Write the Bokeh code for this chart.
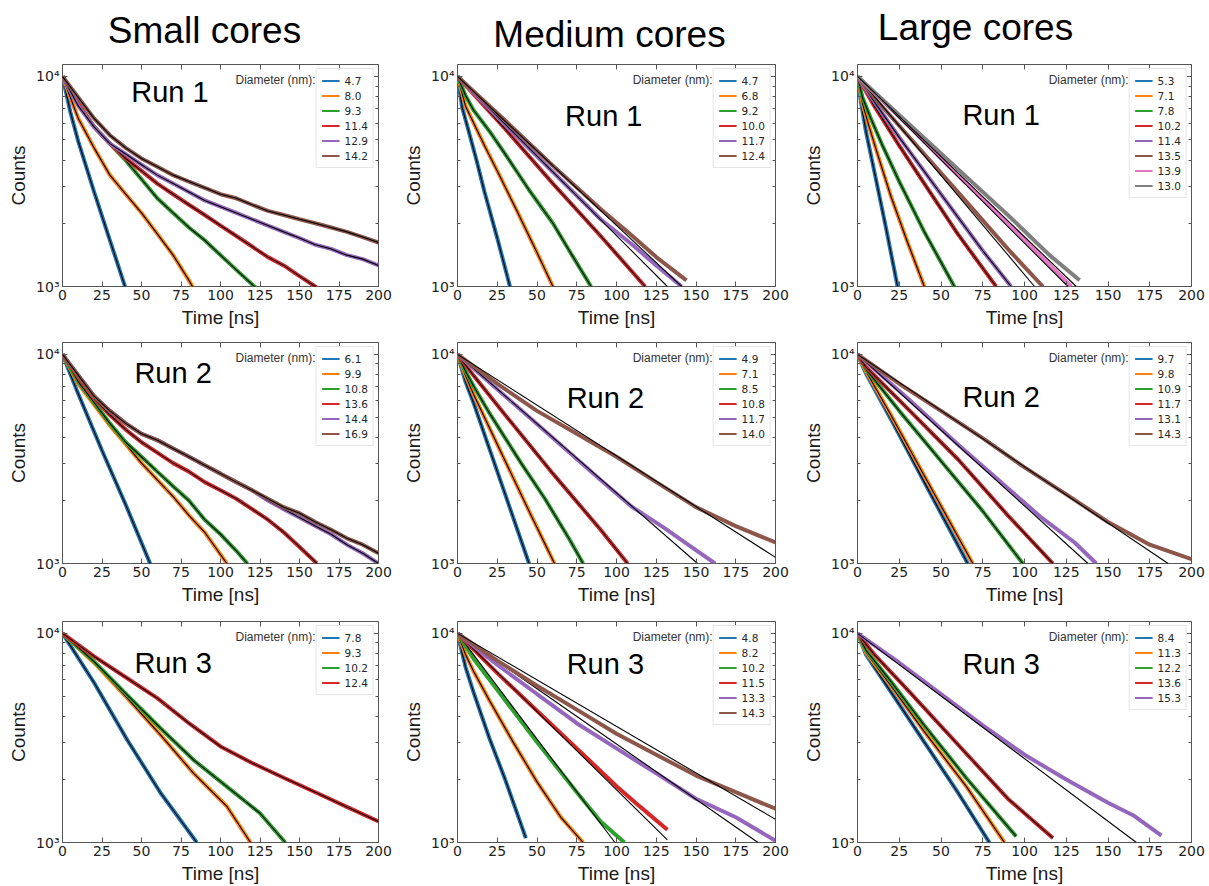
import math

from bokeh.embed import file_html
from bokeh.layouts import column, row
from bokeh.models import (CustomLabelingPolicy, FixedTicker, Label, Legend,
                          LegendItem, LinearAxis, LogAxis, Range1d)
from bokeh.plotting import figure
from bokeh.resources import INLINE

# ---------------------------------------------------------------- labels
COLUMN_TITLES = ["Small cores", "Medium cores", "Large cores"]
RUN_LABELS = ["Run 1", "Run 2", "Run 3"]
X_LABEL = "Time [ns]"
Y_LABEL = "Counts"
LEGEND_TITLE = "Diameter (nm):"
X_TICKS = [0, 25, 50, 75, 100, 125, 150, 175, 200]
Y_TICKS = [1000, 10000]
Y_MINOR_TICKS = [2000, 3000, 4000, 5000, 6000, 7000, 8000, 9000]
Y_TICK_LABELS = {1000: "10³", 10000: "10⁴"}
PALETTE = ["#1f77b4", "#ff7f0e", "#2ca02c", "#d62728",
           "#9467bd", "#8c564b", "#e377c2", "#7f7f7f"]

# ------------------------------------------------ small cores, run 1
small_run1_diam = ["4.7", "8.0", "9.3", "11.4", "12.9", "14.2"]
small_run1_time = [
    [0, 5, 10, 20, 30, 40],
    [0, 5, 10, 15, 20, 30, 40, 50, 60, 70, 80, 83],
    [0, 10, 20, 30, 40, 50, 60, 70, 80, 90, 100, 110, 123],
    [0, 10, 20, 30, 40, 50, 60, 70, 80, 90, 100, 110, 120, 130, 140, 150, 160, 163],
    [0, 10, 20, 30, 40, 50, 60, 70, 80, 90, 100, 110, 120, 130, 140, 150, 160, 170, 180, 190, 200],
    [0, 10, 20, 30, 40, 50, 60, 70, 80, 90, 100, 110, 120, 130, 140, 150, 160, 170, 180, 190, 200],
]
small_run1_counts = [
    [10000, 6760, 4900, 2820, 1660, 977],
    [10000, 7940, 6310, 5370, 4570, 3390, 2750, 2240, 1780, 1410, 1070, 977],
    [10000, 7410, 5750, 4790, 3980, 3240, 2630, 2240, 1910, 1660, 1410, 1200, 977],
    [10000, 7410, 5750, 4790, 4070, 3550, 3090, 2750, 2450, 2190, 1950, 1740, 1550, 1380, 1260, 1120, 1000, 955],
    [10000, 7240, 5750, 4790, 4270, 3800, 3390, 3090, 2820, 2570, 2400, 2240, 2090, 1950, 1820, 1700, 1580, 1510, 1410, 1350, 1260],
    [10000, 7940, 6310, 5250, 4570, 4070, 3720, 3390, 3160, 2950, 2750, 2630, 2450, 2290, 2190, 2090, 2000, 1910, 1820, 1720, 1620],
]
# None: the fitted curve runs through the measured points
small_run1_fit_time = [None, None, None, None, None, None]
small_run1_fit_counts = [None, None, None, None, None, None]

# ------------------------------------------------ small cores, run 2
small_run2_diam = ["6.1", "9.9", "10.8", "13.6", "14.4", "16.9"]
small_run2_time = [
    [0, 10, 25, 40, 56],
    [0, 10, 20, 30, 40, 50, 60, 70, 80, 90, 104],
    [0, 10, 20, 30, 40, 50, 60, 70, 80, 90, 100, 110, 117],
    [0, 10, 20, 30, 40, 50, 60, 70, 80, 90, 100, 110, 120, 130, 140, 150, 161],
    [0, 10, 20, 30, 40, 50, 60, 70, 80, 90, 100, 110, 120, 130, 140, 150, 160, 170, 180, 190, 200],
    [0, 10, 20, 30, 40, 50, 60, 70, 80, 90, 100, 110, 120, 130, 140, 150, 160, 170, 180, 190, 200],
]
small_run2_counts = [
    [10000, 6460, 3470, 1910, 977],
    [10000, 7240, 5750, 4570, 3720, 3020, 2510, 2090, 1700, 1410, 1000],
    [10000, 7410, 5890, 4680, 3800, 3240, 2750, 2340, 2000, 1620, 1380, 1150, 1000],
    [10000, 7760, 6170, 5130, 4370, 3800, 3390, 3020, 2750, 2450, 2240, 2040, 1820, 1620, 1410, 1200, 1000],
    [10000, 7940, 6310, 5370, 4680, 4170, 3890, 3550, 3240, 2950, 2690, 2450, 2240, 2000, 1820, 1660, 1510, 1380, 1230, 1120, 1000],
    [10000, 7940, 6310, 5370, 4680, 4170, 3890, 3550, 3240, 2950, 2690, 2450, 2240, 2040, 1860, 1740, 1580, 1450, 1320, 1230, 1120],
]
small_run2_fit_time = [None, None, None, None, None, None]
small_run2_fit_counts = [None, None, None, None, None, None]

# ------------------------------------------------ small cores, run 3
small_run3_diam = ["7.8", "9.3", "10.2", "12.4"]
small_run3_time = [
    [0, 20, 41, 62, 85],
    [0, 20, 41, 62, 83, 104, 119],
    [0, 20, 41, 62, 83, 104, 125, 141],
    [0, 20, 40, 60, 80, 100, 120, 140, 160, 180, 200],
]
small_run3_counts = [
    [10000, 5810, 3090, 1730, 1000],
    [10000, 7240, 4900, 3270, 2140, 1490, 1000],
    [10000, 7330, 5070, 3520, 2480, 1850, 1380, 1000],
    [10000, 7760, 6170, 4900, 3720, 2880, 2400, 2040, 1740, 1480, 1260],
]
small_run3_fit_time = [None, None, None, None]
small_run3_fit_counts = [None, None, None, None]

# ------------------------------------------------ medium cores, run 1
medium_run1_diam = ["4.7", "6.8", "9.2", "10.0", "11.7", "12.4"]
medium_run1_time = [
    [0, 3, 7, 12, 17, 25, 33],
    [0, 5, 10, 17, 25, 38, 50, 60],
    [0, 5, 10, 20, 30, 45, 60, 72, 84],
    [0, 30, 60, 90, 118],
    [0, 30, 60, 90, 110, 125, 141],
    [0, 30, 60, 90, 110, 125, 144],
]
medium_run1_counts = [
    [10000, 7080, 5500, 3980, 2820, 1700, 1000],
    [10000, 7240, 6030, 4680, 3550, 2240, 1450, 1000],
    [10000, 8130, 6920, 5500, 4270, 2880, 2000, 1410, 1000],
    [10000, 5620, 3090, 1740, 1000],
    [10000, 5890, 3510, 2090, 1580, 1260, 1000],
    [10000, 6170, 3760, 2340, 1740, 1380, 1070],
]
medium_run1_fit_time = [None, None, None, None, [0, 132], [0, 141]]
medium_run1_fit_counts = [None, None, None, None, [10000, 1000], [10000, 1000]]

# ------------------------------------------------ medium cores, run 2
medium_run2_diam = ["4.9", "7.1", "8.5", "10.8", "11.7", "14.0"]
medium_run2_time = [
    [0, 5, 10, 20, 30, 45],
    [0, 5, 10, 20, 30, 45, 61],
    [0, 5, 10, 20, 30, 40, 55, 70, 79],
    [0, 10, 30, 60, 90, 107],
    [0, 30, 60, 90, 110, 130, 145, 162],
    [0, 25, 50, 75, 100, 125, 150, 175, 200],
]
medium_run2_counts = [
    [10000, 7410, 5890, 3550, 2140, 1000],
    [10000, 7940, 6460, 4470, 3090, 1780, 1000],
    [10000, 8320, 7080, 5250, 3980, 3020, 2040, 1320, 1000],
    [10000, 7940, 5130, 2690, 1450, 1000],
    [10000, 6310, 3980, 2510, 1860, 1480, 1230, 1000],
    [10000, 7240, 5370, 4170, 3240, 2450, 1860, 1510, 1260],
]
medium_run2_fit_time = [None, None, None, None, [0, 151], [0, 200]]
medium_run2_fit_counts = [None, None, None, None, [10000, 1000], [10000, 1070]]

# ------------------------------------------------ medium cores, run 3
medium_run3_diam = ["4.8", "8.2", "10.2", "11.5", "13.3", "14.3"]
medium_run3_time = [
    [0, 5, 10, 20, 30, 43],
    [0, 5, 10, 20, 35, 50, 65, 79],
    [0, 10, 25, 50, 75, 90, 105],
    [0, 25, 50, 75, 100, 115, 132],
    [0, 25, 50, 75, 100, 125, 150, 175, 200],
    [0, 25, 50, 75, 100, 125, 150, 175, 200],
]
medium_run3_counts = [
    [10000, 6920, 5250, 3160, 2000, 1050],
    [10000, 7940, 6610, 4790, 3020, 1950, 1320, 1000],
    [10000, 7590, 5370, 3020, 1740, 1260, 1000],
    [10000, 6460, 4270, 2820, 1860, 1480, 1150],
    [10000, 7080, 5130, 3720, 2820, 2140, 1620, 1320, 1020],
    [10000, 7410, 5620, 4320, 3310, 2630, 2090, 1740, 1450],
]
medium_run3_fit_time = [None, None, [0, 99], [0, 132], [0, 189], [0, 200]]
medium_run3_fit_counts = [None, None, [10000, 1000], [10000, 1030], [10000, 1000], [10000, 1290]]

# ------------------------------------------------ large cores, run 1
large_run1_diam = ["5.3", "7.1", "7.8", "10.2", "11.4", "13.5", "13.9", "13.0"]
large_run1_time = [
    [0, 2, 5, 10, 17, 24],
    [0, 3, 7, 12, 20, 30, 40],
    [0, 3, 8, 15, 25, 40, 58],
    [0, 5, 10, 25, 40, 60, 83],
    [0, 10, 25, 50, 75, 92],
    [0, 10, 30, 60, 90, 111],
    [0, 30, 60, 90, 128],
    [0, 30, 60, 90, 115, 133],
]
large_run1_counts = [
    [10000, 7590, 5500, 3550, 1910, 1000],
    [10000, 7410, 5750, 4270, 2690, 1620, 1000],
    [10000, 7940, 6310, 4680, 3160, 1820, 1000],
    [10000, 8510, 7240, 4680, 3090, 1780, 1000],
    [10000, 7590, 5130, 2750, 1480, 1000],
    [10000, 7940, 5250, 2820, 1510, 1000],
    [10000, 5890, 3390, 2000, 1000],
    [10000, 6030, 3630, 2190, 1410, 1070],
]
large_run1_fit_time = [None, None, None, None, None, [0, 106], [0, 126], [0, 131]]
large_run1_fit_counts = [None, None, None, None, None, [10000, 1000], [10000, 1000], [10000, 1000]]

# ------------------------------------------------ large cores, run 2
large_run2_diam = ["9.7", "9.8", "10.9", "11.7", "13.1", "14.3"]
large_run2_time = [
    [0, 5, 20, 40, 66],
    [0, 5, 20, 40, 69],
    [0, 5, 25, 50, 75, 99],
    [0, 5, 30, 60, 90, 117],
    [0, 30, 60, 90, 110, 130, 143],
    [0, 25, 50, 75, 100, 125, 150, 175, 200],
]
large_run2_counts = [
    [10000, 8130, 4900, 2450, 1000],
    [10000, 8320, 5130, 2630, 1000],
    [10000, 8510, 5370, 3090, 1780, 1000],
    [10000, 8710, 5500, 3160, 1700, 1000],
    [10000, 6170, 3720, 2290, 1660, 1260, 1000],
    [10000, 7240, 5370, 3980, 2880, 2140, 1580, 1230, 1050],
]
large_run2_fit_time = [None, None, None, None, [0, 138], [0, 186]]
large_run2_fit_counts = [None, None, None, None, [10000, 1000], [10000, 1000]]

# ------------------------------------------------ large cores, run 3
large_run3_diam = ["8.4", "11.3", "12.2", "13.6", "15.3"]
large_run3_time = [
    [0, 5, 20, 40, 60, 79],
    [0, 5, 20, 40, 65, 88],
    [0, 5, 20, 40, 65, 95],
    [0, 10, 30, 60, 90, 117],
    [0, 25, 50, 75, 100, 125, 150, 165, 182],
]
large_run3_counts = [
    [10000, 7940, 5250, 3020, 1740, 1000],
    [10000, 8130, 5620, 3390, 1860, 1000],
    [10000, 8320, 5890, 3630, 2040, 1070],
    [10000, 7940, 5370, 2950, 1620, 1050],
    [10000, 7240, 5130, 3630, 2630, 2000, 1550, 1350, 1080],
]
large_run3_fit_time = [None, None, None, None, [0, 167]]
large_run3_fit_counts = [None, None, None, None, [10000, 1000]]

# ---------------------------------------------------------------- layout
PAGE_W = 1209
HEADER_H = 60
TITLE_X = [204, 609, 975]
TITLE_BASELINE = [30, 34, 27]
COL_W = [400, 400, 409]
COL_LEFT = [62, 56, 56]
COL_FRAME_W = [316, 319, 335]
ROW_H = [270, 278, 278]
ROW_TOP = [4, 12, 13]
ROW_FRAME_H = [222, 221, 222]
X_MAX = 200
Y_MIN, Y_MAX = 1000, 11400
# centre of the "Run N" caption in each panel, [row][column] as (time, counts)
RUN_LABEL_POS = [
    [(68, 8400), (92, 6460), (86, 6550)],
    [(70, 8110), (93, 6170), (86, 6250)],
    [(70, 7190), (93, 7130), (86, 7130)],
]
FRAME_COLOR = "#555555"
TEXT_COLOR = "#1a1a1a"
SANS = "Liberation Sans"
TICK_FONT = "DejaVu Sans"
DATA_WIDTH = 4.0
FIT_WIDTH = 1.1
LEGEND_MARGIN = 4
LEGEND_PAD = 5
LEGEND_ROW = 13
LEGEND_BOX_W = 56

panels = [
    [(small_run1_diam, small_run1_time, small_run1_counts, small_run1_fit_time, small_run1_fit_counts),
     (medium_run1_diam, medium_run1_time, medium_run1_counts, medium_run1_fit_time, medium_run1_fit_counts),
     (large_run1_diam, large_run1_time, large_run1_counts, large_run1_fit_time, large_run1_fit_counts)],
    [(small_run2_diam, small_run2_time, small_run2_counts, small_run2_fit_time, small_run2_fit_counts),
     (medium_run2_diam, medium_run2_time, medium_run2_counts, medium_run2_fit_time, medium_run2_fit_counts),
     (large_run2_diam, large_run2_time, large_run2_counts, large_run2_fit_time, large_run2_fit_counts)],
    [(small_run3_diam, small_run3_time, small_run3_counts, small_run3_fit_time, small_run3_fit_counts),
     (medium_run3_diam, medium_run3_time, medium_run3_counts, medium_run3_fit_time, medium_run3_fit_counts),
     (large_run3_diam, large_run3_time, large_run3_counts, large_run3_fit_time, large_run3_fit_counts)],
]

# tick marks only (no numbers) on the mirrored top and right axes
NO_LABELS = CustomLabelingPolicy(code="return new Set()")


def style_axis(ax, show_labels):
    ax.axis_line_color = None
    ax.major_tick_in = 5
    ax.major_tick_out = 0
    ax.minor_tick_in = 3
    ax.minor_tick_out = 0
    ax.major_tick_line_color = FRAME_COLOR
    ax.minor_tick_line_color = FRAME_COLOR
    if show_labels:
        ax.major_label_text_font = TICK_FONT
        ax.major_label_text_font_size = "14px"
        ax.major_label_text_color = "#222222"
        ax.major_label_standoff = 3
        ax.axis_label_text_font = SANS
        ax.axis_label_text_font_size = "19px"
        ax.axis_label_text_font_style = "normal"
        ax.axis_label_text_color = TEXT_COLOR
        ax.axis_label_standoff = 4
    else:
        ax.major_label_policy = NO_LABELS
        ax.major_label_text_font_size = "2px"
        ax.major_label_standoff = 0


def build_panel(ri, ci):
    diam, times, counts, fit_times, fit_counts = panels[ri][ci]
    fw, fh = COL_FRAME_W[ci], ROW_FRAME_H[ri]
    p = figure(
        width=COL_W[ci], height=ROW_H[ri],
        x_range=Range1d(0, X_MAX), y_range=Range1d(Y_MIN, Y_MAX),
        y_axis_type="log", output_backend="svg", toolbar_location=None,
        min_border_left=COL_LEFT[ci],
        min_border_right=COL_W[ci] - COL_LEFT[ci] - fw,
        min_border_top=ROW_TOP[ri],
        min_border_bottom=ROW_H[ri] - ROW_TOP[ri] - fh,
    )
    p.grid.visible = False
    p.outline_line_color = FRAME_COLOR
    p.outline_line_width = 1
    p.background_fill_color = "white"
    p.border_fill_color = "white"

    xa = p.xaxis[0]
    xa.ticker = FixedTicker(ticks=X_TICKS)
    xa.axis_label = X_LABEL
    style_axis(xa, True)

    ya = p.yaxis[0]
    ya.ticker = FixedTicker(ticks=Y_TICKS, minor_ticks=Y_MINOR_TICKS)
    ya.major_label_overrides = Y_TICK_LABELS
    ya.axis_label = Y_LABEL
    style_axis(ya, True)

    top = LinearAxis(ticker=FixedTicker(ticks=X_TICKS))
    style_axis(top, False)
    p.add_layout(top, "above")
    right = LogAxis(ticker=FixedTicker(ticks=Y_TICKS, minor_ticks=Y_MINOR_TICKS))
    style_axis(right, False)
    p.add_layout(right, "right")

    items = []
    for k, d in enumerate(diam):
        colour = PALETTE[k]
        p.line(times[k], counts[k], line_color=colour, line_width=DATA_WIDTH)
        if fit_times[k] is None:
            ft, fc = times[k], counts[k]
        else:
            ft, fc = fit_times[k], fit_counts[k]
        p.line(ft, fc, line_color="black", line_width=FIT_WIDTH)
        # single-point line (draws nothing in the plot) styled for the legend swatch
        swatch = p.line(times[k][:1], counts[k][:1], line_color=colour, line_width=1.8)
        items.append(LegendItem(label=d, renderers=[swatch]))

    legend = Legend(
        items=items, location="top_right", margin=LEGEND_MARGIN,
        padding=LEGEND_PAD, spacing=2, label_height=LEGEND_ROW,
        glyph_height=LEGEND_ROW, glyph_width=18, label_standoff=5,
        label_text_font=TICK_FONT, label_text_font_size="10.5px",
        label_text_color="#262626", border_line_color="#cccccc",
        border_line_width=1, background_fill_alpha=0.85,
    )
    p.add_layout(legend)

    # legend caption sits just left of the legend box, level with its first row
    cap_x = X_MAX * (1 - (LEGEND_MARGIN + LEGEND_BOX_W + 3) / fw)
    span = math.log10(Y_MAX) - math.log10(Y_MIN)
    drop = LEGEND_MARGIN + LEGEND_PAD + LEGEND_ROW / 2
    cap_y = 10 ** (math.log10(Y_MAX) - drop / fh * span)
    p.add_layout(Label(x=cap_x, y=cap_y, text=LEGEND_TITLE, text_align="right",
                       text_baseline="middle", text_font=SANS,
                       text_font_size="12px", text_color="#333333"))

    rx, ry = RUN_LABEL_POS[ri][ci]
    p.add_layout(Label(x=rx, y=ry, text=RUN_LABELS[ri], text_align="center",
                       text_baseline="middle", text_font=SANS,
                       text_font_size="29px", text_color="black"))
    return p


header = figure(
    width=PAGE_W, height=HEADER_H,
    x_range=Range1d(0, PAGE_W), y_range=Range1d(HEADER_H, 0),
    x_axis_location=None, y_axis_location=None,
    toolbar_location=None, output_backend="svg", min_border=0,
)
header.grid.visible = False
header.outline_line_color = None
for title, tx, ty in zip(COLUMN_TITLES, TITLE_X, TITLE_BASELINE):
    header.add_layout(Label(x=tx, y=ty, text=title, text_align="center",
                            text_baseline="alphabetic", text_font=SANS,
                            text_font_size="37px", text_color="black"))

rows = [row(*[build_panel(ri, ci) for ci in range(3)]) for ri in range(3)]
page = column(header, *rows)

with open("out.html", "w") as fh_out:
    fh_out.write(file_html(page, INLINE, title="Fluorescence decays"))
